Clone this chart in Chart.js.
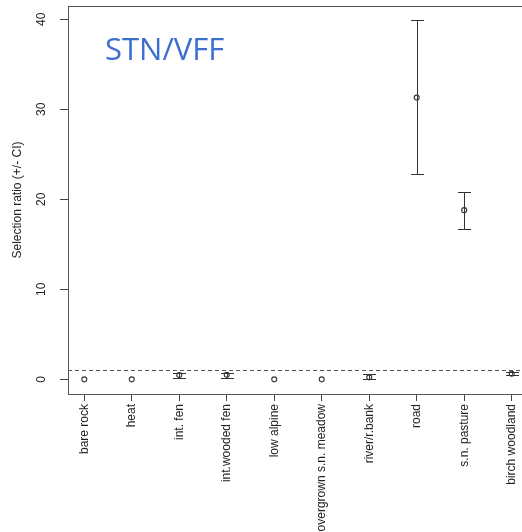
<!DOCTYPE html>
<html>
<head>
<meta charset="utf-8">
<script src="https://cdn.jsdelivr.net/npm/chart.js@4.4.0/dist/chart.umd.min.js"></script>
<style>
  body { margin: 0; background: #fff; overflow: hidden; }
</style>
</head>
<body>
<canvas id="diagram" width="522" height="532"></canvas>
<script>
// habitat types on the x axis
const categories = ['bare rock', 'heat', 'int. fen', 'int.wooded fen', 'low alpine',
  'overgrown s.n. meadow', 'river/r.bank', 'road', 's.n. pasture', 'birch woodland'];
// selection ratio and its confidence interval
const ratio = [0, 0, 0.48, 0.5, 0, 0, 0.22, 31.3, 18.8, 0.62];
const lower = [0, 0, 0.18, 0.18, 0, 0, 0, 22.8, 16.7, 0.51];
const upper = [0, 0, 0.7, 0.67, 0, 0, 0.55, 39.9, 20.8, 0.78];
const yTicks = [0, 10, 20, 30, 40];
const refLine = 1; // selection ratio = 1 (no preference)
const titleText = 'STN/VFF';

const points = ratio.map((v, i) => ({ x: i, y: v }));

// draws the box, dashed line, CI bars, y tick labels and title
const extras = {
  id: 'extras',
  afterDatasetsDraw(chart) {
    const c = chart.ctx;
    const a = chart.chartArea;
    const xs = chart.scales.x, ys = chart.scales.y;
    c.save();
    // box (right side falls outside the picture)
    c.strokeStyle = '#555';
    c.lineWidth = 1;
    c.strokeRect(a.left + 0.5, a.top + 0.5, a.right - a.left + 20, a.bottom - a.top);

    // dashed line
    c.setLineDash([4, 3]);
    c.strokeStyle = '#555';
    c.beginPath();
    const yr = Math.round(ys.getPixelForValue(refLine)) + 0.5;
    c.moveTo(a.left, yr);
    c.lineTo(a.right + 10, yr);
    c.stroke();
    c.setLineDash([]);

    // CI bars
    c.strokeStyle = '#333';
    for (let i = 0; i < categories.length; i++) {
      const px = Math.round(xs.getPixelForValue(i)) + 0.5;
      const lo = ys.getPixelForValue(lower[i]);
      const hi = ys.getPixelForValue(upper[i]);
      if (lo - hi < 1) continue;
      c.beginPath();
      c.moveTo(px, lo); c.lineTo(px, hi);
      c.moveTo(px - 6.5, Math.round(lo) + 0.5); c.lineTo(px + 6.5, Math.round(lo) + 0.5);
      c.moveTo(px - 6.5, Math.round(hi) + 0.5); c.lineTo(px + 6.5, Math.round(hi) + 0.5);
      c.stroke();
    }

    // y tick labels, rotated like R
    c.fillStyle = '#222';
    c.font = '12px "Liberation Sans", Arial, sans-serif';
    c.textAlign = 'center';
    c.textBaseline = 'middle';
    yTicks.forEach(t => {
      c.save();
      c.translate(42, ys.getPixelForValue(t));
      c.rotate(-Math.PI / 2);
      c.fillText(String(t), 0, 0);
      c.restore();
    });

    // title
    c.fillStyle = '#3d6fd0';
    c.font = '31px "Open Sans", sans-serif';
    c.textAlign = 'left';
    c.textBaseline = 'alphabetic';
    c.fillText(titleText, 105, 60);
    c.restore();
  }
};

const ctx = document.getElementById('diagram');

new Chart(ctx, {
  type: 'scatter',
  data: {
    datasets: [{
      data: points,
      pointStyle: 'circle',
      pointRadius: 2.5,
      pointBorderWidth: 1.1,
      borderColor: '#333',
      backgroundColor: 'rgba(0,0,0,0)',
      showLine: false
    }]
  },
  options: {
    responsive: false,
    animation: false,
    layout: { padding: { top: 6, right: 0, left: 0, bottom: 0 } },
    plugins: { legend: { display: false }, tooltip: { enabled: false } },
    scales: {
      x: {
        type: 'linear',
        min: -0.343,
        max: 9.11,
        afterBuildTicks: s => { s.ticks = categories.map((_, i) => ({ value: i })); },
        afterFit: s => { s.height = 138; s.paddingLeft = 0; s.paddingRight = 0; },
        grid: { drawOnChartArea: false, drawTicks: true, tickLength: 7, color: '#444' },
        border: { display: false },
        ticks: {
          autoSkip: false,
          minRotation: 90,
          maxRotation: 90,
          padding: 3,
          color: '#222',
          font: { family: '"Liberation Sans", Arial, sans-serif', size: 12 },
          callback: v => categories[v]
        }
      },
      y: {
        min: -1.63,
        max: 41.48,
        afterBuildTicks: s => { s.ticks = yTicks.map(v => ({ value: v })); },
        afterFit: s => { s.width = 68; s.paddingTop = 0; s.paddingBottom = 0; },
        grid: { drawOnChartArea: false, drawTicks: true, tickLength: 8, color: '#444' },
        border: { display: false },
        ticks: { display: false },
        title: {
          display: true,
          text: 'Selection ratio (+/- CI)',
          color: '#222',
          font: { family: '"Liberation Sans", Arial, sans-serif', size: 12 },
          padding: { top: 10, bottom: 0 }
        }
      }
    }
  },
  plugins: [extras]
});
</script>
</body>
</html>
